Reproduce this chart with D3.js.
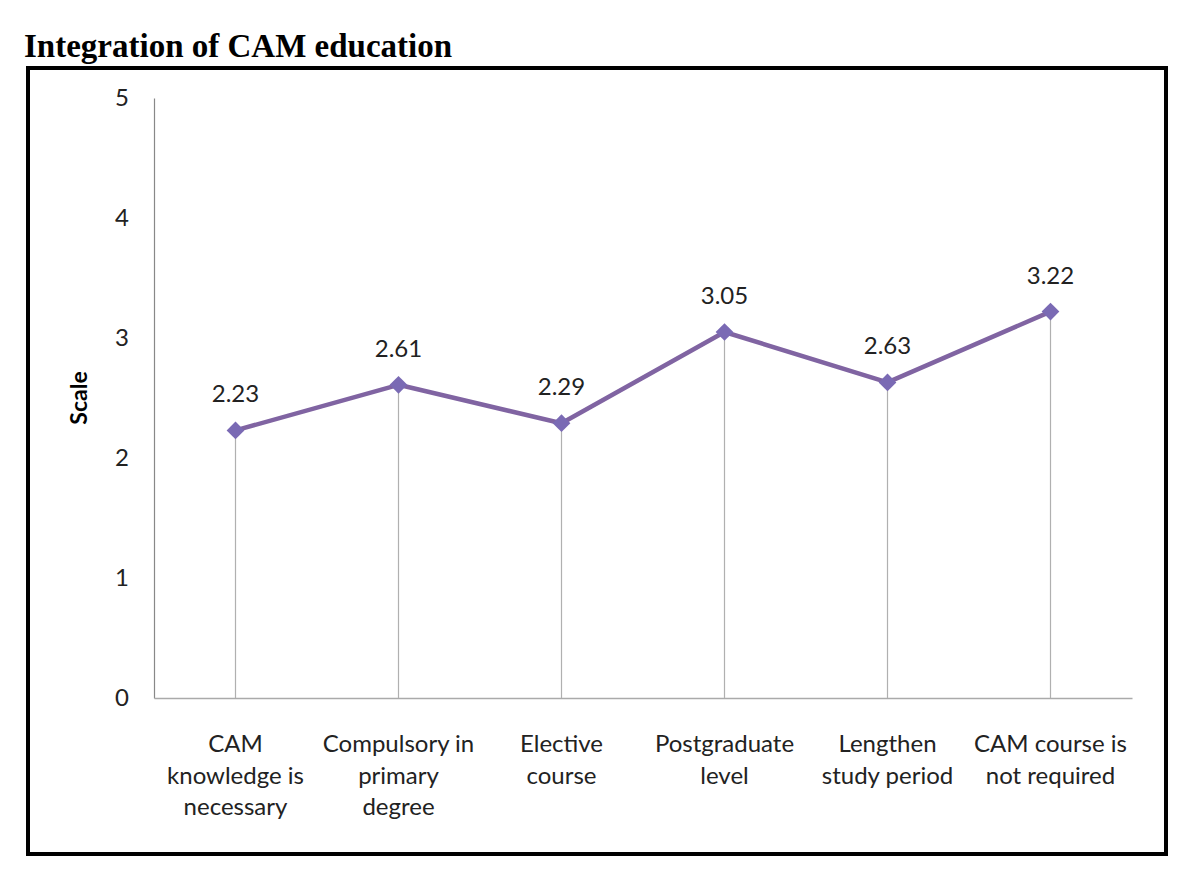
<!DOCTYPE html>
<html><head><meta charset="utf-8">
<script src="https://cdn.jsdelivr.net/npm/d3@7"></script>
<style>body{margin:0;background:#fff;}svg{display:block;}</style>
</head><body>
<script>
const categories = [
  ["CAM", "knowledge is", "necessary"],
  ["Compulsory in", "primary", "degree"],
  ["Elective", "course"],
  ["Postgraduate", "level"],
  ["Lengthen", "study period"],
  ["CAM course is", "not required"]
];
const values = [2.23, 2.61, 2.29, 3.05, 2.63, 3.22];
const valueLabels = ["2.23", "2.61", "2.29", "3.05", "2.63", "3.22"];
const yTicks = [0, 1, 2, 3, 4, 5];

(function () {
const W = 1200, H = 879;
const svg = d3.select("body").append("svg").attr("width", W).attr("height", H);
const font = "Lato, 'Open Sans', sans-serif";

svg.append("text").attr("x", 24).attr("y", 57)
  .attr("font-family", "'Liberation Serif', 'Times New Roman', serif")
  .attr("font-weight", "bold").attr("font-size", 33).attr("fill", "#000")
  .text("Integration of CAM education");

svg.append("rect").attr("x", 28).attr("y", 68).attr("width", 1138).attr("height", 786)
  .attr("fill", "#fff").attr("stroke", "#000").attr("stroke-width", 4);

const mLeft = 154, mRight = 1132, mTop = 98, mBottom = 698;
const x = d3.scaleBand().domain(d3.range(categories.length)).range([mLeft, mRight]);
const y = d3.scaleLinear().domain([0, 5]).range([mBottom, mTop]);
const cx = i => x(i) + x.bandwidth() / 2;

// y axis
const yAxis = svg.append("g").attr("transform", `translate(${mLeft},0)`)
  .call(d3.axisLeft(y).tickValues(yTicks).tickFormat(d3.format("d")).tickSize(0).tickPadding(26));
yAxis.select(".domain").attr("stroke", "#888").attr("stroke-width", 1.2);
yAxis.selectAll("text").attr("font-family", font).attr("font-size", 24).attr("fill", "#222")
  .attr("text-anchor", "middle").attr("dx", -6);

// x axis
const xAxis = svg.append("g").attr("transform", `translate(0,${mBottom})`)
  .call(d3.axisBottom(x).tickSize(0).tickFormat(""));
xAxis.select(".domain").attr("stroke", "#aaa").attr("stroke-width", 1.5);

// drop lines
svg.append("g").selectAll("line").data(values).join("line")
  .attr("x1", (d, i) => cx(i)).attr("x2", (d, i) => cx(i))
  .attr("y1", d => y(d)).attr("y2", mBottom)
  .attr("stroke", "#b0b0b0").attr("stroke-width", 1.2);

// x labels
const xl = svg.append("g");
categories.forEach((lines, i) => {
  const t = xl.append("text").attr("x", cx(i)).attr("y", 752)
    .attr("text-anchor", "middle").attr("font-family", font).attr("font-size", 24).attr("fill", "#222");
  lines.forEach((ln, k) => t.append("tspan").attr("x", cx(i)).attr("dy", k === 0 ? 0 : 31.5).text(ln));
});

// y title
svg.append("text").attr("transform", `translate(87,398) rotate(-90)`)
  .attr("text-anchor", "middle").attr("font-family", font).attr("font-weight", "bold")
  .attr("font-size", 23).attr("fill", "#000").text("Scale");

// line
const line = d3.line().x((d, i) => cx(i)).y(d => y(d));
svg.append("path").datum(values).attr("d", line).attr("fill", "none")
  .attr("stroke", "#8064A2").attr("stroke-width", 4.5).attr("stroke-linejoin", "round");

// markers
svg.append("g").selectAll("path").data(values).join("path")
  .attr("transform", (d, i) => `translate(${cx(i)},${y(d)})`)
  .attr("d", d3.symbol().type(d3.symbolDiamond2).size(200))
  .attr("fill", "#7A6AB4");

// value labels
svg.append("g").selectAll("text").data(values).join("text")
  .attr("x", (d, i) => cx(i)).attr("y", d => y(d) - 28)
  .attr("text-anchor", "middle").attr("font-family", font).attr("font-size", 24).attr("fill", "#222")
  .text((d, i) => valueLabels[i]);
})();
</script>
</body></html>
